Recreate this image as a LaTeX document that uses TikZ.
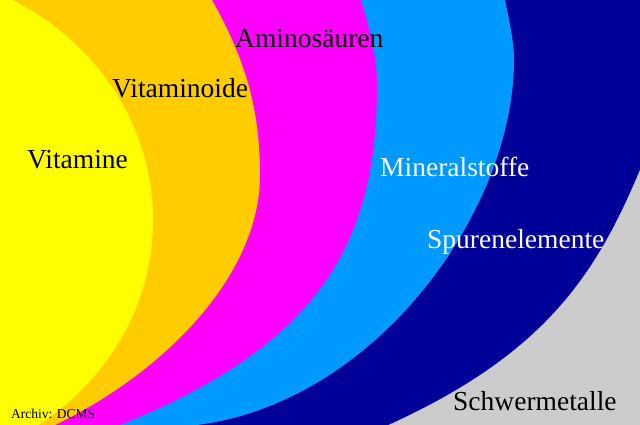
\documentclass[tikz,border=0pt]{standalone}
\usepackage{fontspec}
\setmainfont{Liberation Serif}
\begin{document}
\begin{tikzpicture}[x=1pt, y=-1pt,
    bandlabel/.style={anchor=base west, inner sep=0pt, font=\fontsize{27.5}{30}\selectfont},
    ]
    \definecolor{bandYellow}{HTML}{FFFF00}
    \definecolor{bandOrange}{HTML}{FFCC00}
    \definecolor{bandMagenta}{HTML}{FF00FF}
    \definecolor{bandSky}{HTML}{0099FF}
    \definecolor{bandNavy}{HTML}{000099}
    \definecolor{bandGrey}{HTML}{CCCCCC}

    \def\frameW{640}
    \def\frameH{425}

    \useasboundingbox (0,0) rectangle (\frameW,\frameH);
    \clip (0,0) rectangle (\frameW,\frameH);

    % Define the outermost points of the bands
    \coordinate (navyTip) at (648,150);
    \coordinate (skyTip) at (514,60);
    \coordinate (magentaTip) at (377,85);
    \coordinate (orangeTip) at (260,175);

    % Draw outer band (Schwermetalle)
    \fill[bandGrey] (0,0) rectangle (\frameW,\frameH);

    % Draw band Spurenelemente
    \fill[bandNavy] (-20,-20) -- (660,-20) -- (navyTip)
        .. controls (600,270) and (550,356) .. (370,433) -- (-20,445) -- cycle;

    % Draw band Mineralstoffe
    \fill[bandSky] (-20,-20) -- (505,-20) -- (505,0)
        .. controls (508,15) and (514,40) .. (skyTip)
        .. controls (514,210) and (377,402) .. (197,425) -- (-20,445) -- cycle;

    % Draw band Aminosaeuren
    \fill[bandMagenta] (-20,-20) -- (361,-20) -- (361,0)
        .. controls (368,25) and (377,55) .. (magentaTip)
        .. controls (377,245) and (318,345) .. (120,425) -- (-20,445) -- cycle;

    % Draw band Vitaminoide
    \fill[bandOrange] (-20,-20) -- (212,-20) -- (212,0)
        .. controls (240,50) and (260,100) .. (orangeTip)
        .. controls (260,275) and (165,372) .. (55,425) -- (-20,445) -- cycle;

    % Draw inner area (Vitamine)
    \fill[bandYellow] (-115,220) ellipse [x radius=268, y radius=250];

    % Label the bands
    \node[bandlabel] (vitamine) at (27,168) {Vitamine};
    \node[bandlabel] (vitaminoide) at (112,98) {Vitaminoide};
    \node[bandlabel] (amino) at (235,48) {Aminosäuren};
    \node[bandlabel, text=white] (mineral) at (380,176) {Mineralstoffe};
    \node[bandlabel, text=white] (spuren) at (427,248) {Spurenelemente};
    \node[bandlabel] (schwer) at (453,410) {Schwermetalle};
    \node[anchor=base west, inner sep=0pt, font=\fontsize{13.5}{15}\selectfont] (archiv) at (11,418) {Archiv: DCMS};

\end{tikzpicture}
\end{document}
